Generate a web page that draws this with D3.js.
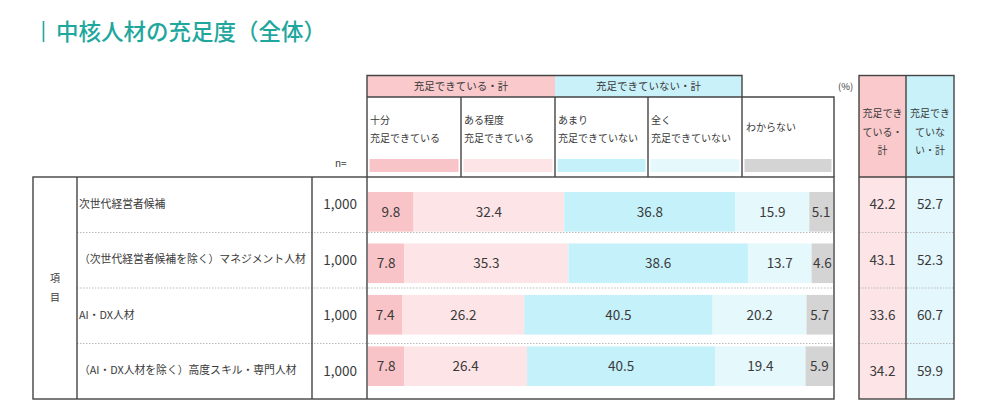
<!DOCTYPE html>
<html><head><meta charset="utf-8">
<script src="https://cdn.jsdelivr.net/npm/d3@7"></script>
<style>
html,body{margin:0;padding:0;background:#fff;}
svg{display:block;font-family:"Noto Sans CJK JP","Noto Sans",sans-serif;}
</style></head>
<body><svg id="c" width="1000" height="419"></svg>
<script>
const title = "中核人材の充足度（全体）";
const categories = ["次世代経営者候補","（次世代経営者候補を除く）マネジメント人材","AI・DX人材","（AI・DX人材を除く）高度スキル・専門人材"];
const nValues = ["1,000","1,000","1,000","1,000"];
const seriesKeys = ["s1","s2","s3","s4","s5"];
const seriesLabels = [["十分","充足できている"],["ある程度","充足できている"],["あまり","充足できていない"],["全く","充足できていない"],["わからない"]];
const s1 = [9.8, 7.8, 7.4, 7.8];
const s2 = [32.4, 35.3, 26.2, 26.4];
const s3 = [36.8, 38.6, 40.5, 40.5];
const s4 = [15.9, 13.7, 20.2, 19.4];
const s5 = [5.1, 4.6, 5.7, 5.9];
const groupLabels = ["充足できている・計","充足できていない・計"];
const totalSatisfied = [42.2, 43.1, 33.6, 34.2];
const totalNotSatisfied = [52.7, 52.3, 60.7, 59.9];
const totalHeaders = [["充足でき","ている・","計"],["充足でき","ていな","い・計"]];

const colors = ["#f9c4c7","#fde4e6","#c4f1fa","#e5f8fc","#d4d4d4"];
const lineC = "#444";
const txtC = "#3a3a3a";

const svg = d3.select("#c");
const rows = categories.map((c,i)=>({cat:c,s1:s1[i],s2:s2[i],s3:s3[i],s4:s4[i],s5:s5[i]}));

const x = d3.scaleLinear().domain([0,100]).range([368,833]);
const yRow = d3.scaleBand().domain(categories).range([177,399]);
const yBar = d3.scaleBand().domain(categories).range([192,386]).paddingInner(0.23).paddingOuter(0);

// Title
svg.append("line").attr("x1",43.5).attr("x2",43.5).attr("y1",21).attr("y2",42).attr("stroke","#1fa79e").attr("stroke-width",1.6);
svg.append("text").attr("x",56).attr("y",40).attr("font-size",22.5).attr("font-weight",500).attr("fill","#1fa79e").text(title);

// Header row 1
const hTop = 75.5, hMid = 97, hBot = 177;
svg.append("rect").attr("x",367).attr("y",hTop).attr("width",555-367).attr("height",hMid-hTop).attr("fill","#f9c9cc");
svg.append("rect").attr("x",555).attr("y",hTop).attr("width",742-555).attr("height",hMid-hTop).attr("fill","#c8f1fa");
svg.append("text").attr("x",461).attr("y",(hTop+hMid)/2+4).attr("text-anchor","middle").attr("font-size",10.5).attr("fill",txtC).text(groupLabels[0]);
svg.append("text").attr("x",648.5).attr("y",(hTop+hMid)/2+4).attr("text-anchor","middle").attr("font-size",10.5).attr("fill",txtC).text(groupLabels[1]);

// Header row 2 columns
const colEdges = [367,461,555,648,742,834];
seriesKeys.forEach((k,i)=>{
  const x0 = colEdges[i], x1 = colEdges[i+1];
  svg.append("rect").attr("x",x0+2.5).attr("y",159).attr("width",x1-x0-5).attr("height",13).attr("fill",colors[i]);
  const lbl = seriesLabels[i];
  if(lbl.length===2){
    lbl.forEach((t,j)=>svg.append("text").attr("x",x0+3).attr("y",124+j*18).attr("font-size",10).attr("fill",txtC).text(t));
  } else {
    svg.append("text").attr("x",x0+4).attr("y",131).attr("font-size",10).attr("fill",txtC).text(lbl[0]);
  }
});
const hdr = svg.append("g").attr("stroke",lineC).attr("stroke-width",1.4).attr("fill","none");
hdr.append("path").attr("d",`M367,${hBot}V${hTop}H742V${hBot}M367,${hMid}H834V${hBot}`);
[461,555,648].forEach(xx=>hdr.append("line").attr("x1",xx).attr("x2",xx).attr("y1",hMid).attr("y2",hBot));

svg.append("text").attr("x",335).attr("y",167).attr("font-size",10).attr("fill",txtC).text("n=");
svg.append("text").attr("x",838).attr("y",90).attr("font-size",9.5).attr("fill",txtC).text("(%)");

// Dotted row separators
const sep = svg.append("g").attr("stroke","#bbb").attr("stroke-width",1).attr("stroke-dasharray","1.5,1.5");
categories.slice(1).forEach(c=>{
  const yy = yRow(c);
  sep.append("line").attr("x1",77).attr("x2",834).attr("y1",yy).attr("y2",yy);
});

// Bars
const stack = d3.stack().keys(seriesKeys)(rows);
stack.forEach((layer,i)=>{
  const g = svg.append("g");
  g.selectAll("rect").data(layer).join("rect")
    .attr("x",d=>x(d[0])).attr("width",d=>x(d[1])-x(d[0]))
    .attr("y",d=>yBar(d.data.cat)).attr("height",yBar.bandwidth())
    .attr("fill",colors[i]);
  g.selectAll("text").data(layer).join("text")
    .attr("x",d=>(x(d[0])+x(d[1]))/2).attr("y",d=>yBar(d.data.cat)+yBar.bandwidth()/2+5)
    .attr("text-anchor","middle").attr("font-size",13.5).attr("fill",txtC)
    .text(d=>d3.format(".1f")(d[1]-d[0]));
});

// Left table
categories.forEach((c,i)=>{
  const cy = yRow(c)+yRow.bandwidth()/2;
  svg.append("text").attr("x",79).attr("y",cy+3).attr("font-size",10.8).attr("fill",txtC).text(c);
  svg.append("text").attr("x",357).attr("y",cy+4.5).attr("text-anchor","end").attr("font-size",13.5).attr("fill",txtC).text(nValues[i]);
});
svg.append("text").attr("x",55).attr("y",282).attr("text-anchor","middle").attr("font-size",10).attr("fill",txtC).text("項");
svg.append("text").attr("x",55).attr("y",301).attr("text-anchor","middle").attr("font-size",10).attr("fill",txtC).text("目");

const tb = svg.append("g").attr("stroke",lineC).attr("stroke-width",1.4).attr("fill","none");
tb.append("rect").attr("x",33).attr("y",177).attr("width",834-33).attr("height",399-177);
[77,312,367].forEach(xx=>tb.append("line").attr("x1",xx).attr("x2",xx).attr("y1",177).attr("y2",399));

// Right totals table
const rL=859, rM=906, rR=954;
svg.insert("rect","g").attr("x",rL).attr("y",hTop).attr("width",rM-rL).attr("height",hBot-hTop).attr("fill","#f9c9cc");
svg.insert("rect","g").attr("x",rM).attr("y",hTop).attr("width",rR-rM).attr("height",hBot-hTop).attr("fill","#c8f1fa");
svg.insert("rect","g").attr("x",rL).attr("y",hBot).attr("width",rM-rL).attr("height",399-hBot).attr("fill","#fde4e6");
svg.insert("rect","g").attr("x",rM).attr("y",hBot).attr("width",rR-rM).attr("height",399-hBot).attr("fill","#e4f7fc");
totalHeaders.forEach((lines,k)=>{
  const cx = k===0 ? (rL+rM)/2 : (rM+rR)/2;
  lines.forEach((t,j)=>svg.append("text").attr("x",cx).attr("y",117+j*18.5).attr("text-anchor","middle").attr("font-size",10).attr("fill",txtC).text(t));
});
categories.forEach((c,i)=>{
  const cy = yRow(c)+yRow.bandwidth()/2;
  svg.append("text").attr("x",(rL+rM)/2).attr("y",cy+4.5).attr("text-anchor","middle").attr("font-size",13.5).attr("fill",txtC).text(d3.format(".1f")(totalSatisfied[i]));
  svg.append("text").attr("x",(rM+rR)/2).attr("y",cy+4.5).attr("text-anchor","middle").attr("font-size",13.5).attr("fill",txtC).text(d3.format(".1f")(totalNotSatisfied[i]));
  if(i>0) sep.append("line").attr("x1",rL).attr("x2",rR).attr("y1",yRow(c)).attr("y2",yRow(c));
});
const rt = svg.append("g").attr("stroke",lineC).attr("stroke-width",1.4).attr("fill","none");
rt.append("rect").attr("x",rL).attr("y",hTop).attr("width",rR-rL).attr("height",399-hTop);
rt.append("line").attr("x1",rM).attr("x2",rM).attr("y1",hTop).attr("y2",399);
rt.append("line").attr("x1",rL).attr("x2",rR).attr("y1",hBot).attr("y2",hBot);
</script></body></html>
